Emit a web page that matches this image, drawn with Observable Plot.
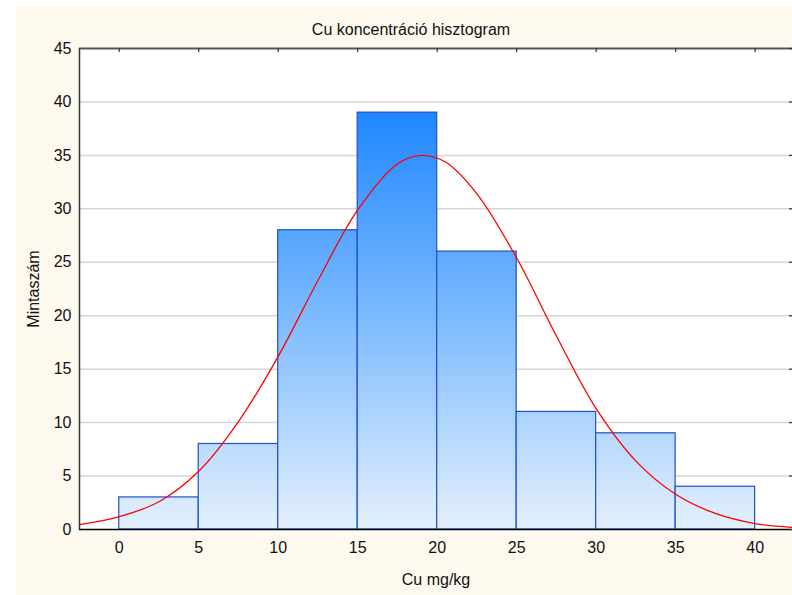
<!DOCTYPE html>
<html>
<head>
<meta charset="utf-8">
<script src="https://cdn.jsdelivr.net/npm/d3@7"></script>
<script src="https://cdn.jsdelivr.net/npm/@observablehq/plot@0.6"></script>
<style>
  html, body { margin: 0; padding: 0; background: #ffffff; }
  #wrap { position: relative; width: 792px; height: 595px; background: #ffffff; overflow: hidden; }
  #panel { position: absolute; left: 16px; top: 6px; width: 776px; height: 589px; background: #fdf9ef; }
  #chart { position: absolute; left: 0; top: 0; }
</style>
</head>
<body>
<div id="wrap"><div id="panel"></div><div id="chart"></div></div>
<script>
// Histogram bins (lower edge, width) and counts
const binStarts = [0, 5, 10, 15, 20, 25, 30, 35];
const binWidth = 5;
const counts = [3, 8, 28, 39, 26, 11, 9, 4];

// Fitted normal curve
const curveX = [-2.5, 0, 2.5, 5, 7.5, 10, 12.5, 15, 17.5, 19, 20.5, 22.5, 25, 27.5, 30, 32.5, 35, 37.5, 40, 42.35];
const curveY = [0.45, 1.2, 2.6, 5.45, 10.1, 16.2, 23.3, 29.9, 34.2, 35, 34.4, 31.4, 25.4, 18.1, 11.3, 6.4, 3.3, 1.5, 0.55, 0.2];

// Ticks and text
const xTicks = [0, 5, 10, 15, 20, 25, 30, 35, 40];
const yTicks = [0, 5, 10, 15, 20, 25, 30, 35, 40, 45];
const title = "Cu koncentráció hisztogram";
const xLabel = "Cu mg/kg";
const yLabel = "Mintaszám";

const bars = binStarts.map((s, i) => ({x1: s, x2: s + binWidth, y: counts[i]}));
const curve = curveX.map((x, i) => ({x, y: curveY[i]}));

const W = 792, H = 595;
const mTop = 48, mLeft = 79, mRight = 0, mBottom = 66;
const frameH = H - mTop - mBottom;
const frameW = W - mLeft - mRight;

const chart = Plot.plot({
  width: W,
  height: H,
  marginTop: mTop,
  marginLeft: mLeft,
  marginRight: mRight,
  marginBottom: mBottom,
  style: {background: "transparent", fontFamily: "'Liberation Sans', Arial, sans-serif", fontSize: "16px", color: "#111"},
  x: {domain: [-2.5, 42.35], ticks: xTicks, tickSize: 0, tickPadding: 12, label: null},
  y: {domain: [0, 45], ticks: yTicks, tickSize: 0, tickPadding: 8, label: null},
  marks: [
    Plot.frame({fill: "#ffffff", stroke: "none"}),
    Plot.ruleY(yTicks.filter(d => d > 0 && d < 45), {stroke: "#d6d6d6", strokeWidth: 1.5}),
    Plot.rectY(bars, {x1: "x1", x2: "x2", y: "y", fill: "url(#barGrad)", stroke: "#1f50c8", strokeWidth: 1.2}),
    Plot.line(curve, {x: "x", y: "y", stroke: "#ff0000", strokeWidth: 1.3, curve: "catmull-rom"}),
    Plot.ruleY([0], {stroke: "#000000", strokeWidth: 1.5}),
    Plot.ruleY([45], {stroke: "#555555", strokeWidth: 2}),
    Plot.ruleX([-2.5], {stroke: "#333333", strokeWidth: 1.5}),
    Plot.ruleX(xTicks, {stroke: "#333333", strokeWidth: 1.2, insetBottom: frameH - 4}),
    Plot.ruleY(yTicks, {stroke: "#333333", strokeWidth: 1.2, insetLeft: frameW - 3}),
    Plot.text([title], {frameAnchor: "top", dx: -25, dy: -19, text: d => d, fontSize: 16, textAnchor: "middle", lineAnchor: "middle", fill: "#111"}),
    Plot.text([xLabel], {frameAnchor: "bottom", dy: 50, text: d => d, fontSize: 16, textAnchor: "middle", lineAnchor: "middle", fill: "#111"}),
    Plot.text([yLabel], {frameAnchor: "left", dx: -46, rotate: -90, text: d => d, fontSize: 16, textAnchor: "middle", lineAnchor: "middle", fill: "#111"})
  ]
});

// Vertical gradient shared across bars (darker toward the top of the tallest bar)
const ys = chart.scale("y");
const yTop = ys.apply(d3.max(counts));
const yBot = ys.apply(0);
const defs = d3.select(chart).insert("defs", ":first-child");
const g = defs.append("linearGradient")
  .attr("id", "barGrad")
  .attr("gradientUnits", "userSpaceOnUse")
  .attr("x1", 0).attr("x2", 0)
  .attr("y1", yTop).attr("y2", yBot);
g.append("stop").attr("offset", "0%").attr("stop-color", "#1f87fe");
g.append("stop").attr("offset", "45%").attr("stop-color", "#74b6fe");
g.append("stop").attr("offset", "100%").attr("stop-color", "#e4f0fd");

document.getElementById("chart").appendChild(chart);
</script>
</body>
</html>
